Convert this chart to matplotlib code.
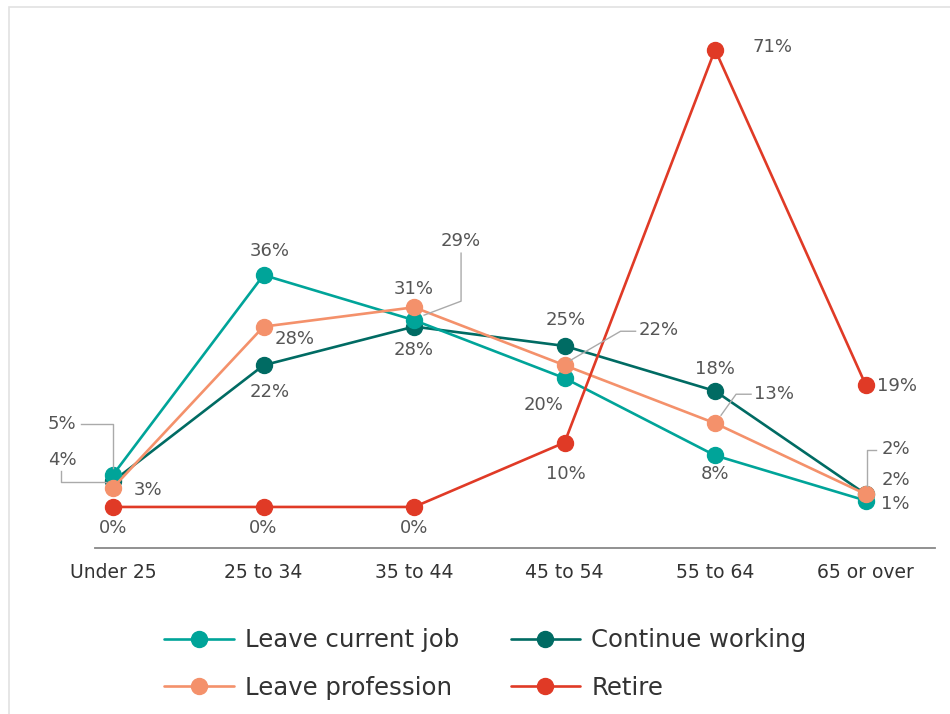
import matplotlib.pyplot as plt
import matplotlib.transforms as mtransforms
from matplotlib.patches import Rectangle

categories = ["Under 25", "25 to 34", "35 to 44", "45 to 54", "55 to 64", "65 or over"]
leave_job = [5, 36, 29, 20, 8, 1]
continue_working = [4, 22, 28, 25, 18, 2]
leave_profession = [3, 28, 31, 22, 13, 2]
retire = [0, 0, 0, 10, 71, 19]

c_job = "#00a499"
c_cont = "#006b63"
c_prof = "#f4916b"
c_ret = "#e03a26"
txt = "#555555"

plt.rcParams['font.family'] = ['DejaVu Sans']

fig = plt.figure(figsize=(9.5, 7.14), dpi=100)
ax = fig.add_axes([0.1, 0.2325, 0.884, 0.7395])
x = list(range(len(categories)))

# frame around the whole picture
fig.patches.append(Rectangle((9 / 950, -0.1), 1.2, 1.1 - 7 / 714, transform=fig.transFigure,
                             fill=False, edgecolor="#e2e2e2", lw=1.2))

series = [("Continue working", continue_working, c_cont),
          ("Leave current job", leave_job, c_job),
          ("Leave profession", leave_profession, c_prof),
          ("Retire", retire, c_ret)]
lines = {}
for name, vals, col in series:
    lines[name], = ax.plot(x, vals, color=col, lw=1.9, marker="o", ms=11.5,
                           label=name, solid_capstyle="round")

ax.set_xlim(-0.12, 5.46)
ax.set_ylim(-6.37, 75.6)
ax.set_yticks([])
ax.set_xticks(x)
ax.set_xticklabels(categories, fontsize=13.5, color="#333333")
ax.tick_params(axis="x", length=0, pad=11)
for s in ["top", "right", "left"]:
    ax.spines[s].set_visible(False)
ax.spines["bottom"].set_color("#888888")
ax.spines["bottom"].set_linewidth(1.3)


def pix_trans(i, v):
    # pixel offsets measured from a data point
    return mtransforms.Affine2D() + mtransforms.ScaledTranslation(i, v, ax.transData)


def label(i, v, text, dx, dy):
    ax.text(dx, dy, text, transform=pix_trans(i, v), ha="center", va="center",
            fontsize=13, color=txt)


def leader(i, v, pts):
    xs = [p[0] for p in pts]
    ys = [p[1] for p in pts]
    ax.plot(xs, ys, transform=pix_trans(i, v), color="#aaaaaa", lw=1, clip_on=False)


# Under 25
label(0, leave_job[0], "5%", -51, 51)
leader(0, leave_job[0], [(-32, 51), (0, 51), (0, 7)])
label(0, continue_working[0], "4%", -51, 21)
leader(0, continue_working[0], [(-52, 10), (-52, -1), (-7, -1)])
label(0, leave_profession[0], "3%", 35, -2)
# 25 to 34
label(1, leave_job[1], "36%", 6, 24)
label(1, leave_profession[1], "28%", 31, -12)
label(1, continue_working[1], "22%", 6, -27)
# 35 to 44
label(2, leave_profession[2], "31%", 0, 18)
label(2, leave_job[2], "29%", 47, 79)
leader(2, leave_job[2], [(47, 67), (47, 19), (10, 5)])
label(2, continue_working[2], "28%", 0, -23)
# 45 to 54
label(3, continue_working[3], "25%", 1, 26)
label(3, leave_profession[3], "22%", 94, 35)
leader(3, leave_profession[3], [(71, 34), (56, 34), (6, 5)])
label(3, leave_job[3], "20%", -21, -27)
label(3, retire[3], "10%", 1, -31)
# 55 to 64
label(4, retire[4], "71%", 57, 3)
label(4, continue_working[4], "18%", 0, 22)
label(4, leave_profession[4], "13%", 59, 29)
leader(4, leave_profession[4], [(36, 29), (21, 29), (6, 8)])
label(4, leave_job[4], "8%", 0, -19)
# 65 or over
label(5, retire[5], "19%", 31, -1)
label(5, continue_working[5], "2%", 30, 45)
leader(5, continue_working[5], [(10, 44), (1, 44), (1, 8)])
label(5, leave_profession[5], "2%", 30, 14)
label(5, leave_job[5], "1%", 30, -3)
for i in range(3):
    label(i, retire[i], "0%", 0, -21)

handles = [lines["Leave current job"], lines["Leave profession"],
           lines["Continue working"], lines["Retire"]]
fig.legend(handles=handles, labels=[h.get_label() for h in handles], ncol=2,
           loc="center", bbox_to_anchor=(0.511, 0.07), frameon=False, fontsize=17.6,
           handlelength=2.85, handletextpad=0.45, columnspacing=2.1, labelspacing=0.95,
           labelcolor="#333333", markerscale=1.0)

fig.savefig("out.png", dpi=100)
